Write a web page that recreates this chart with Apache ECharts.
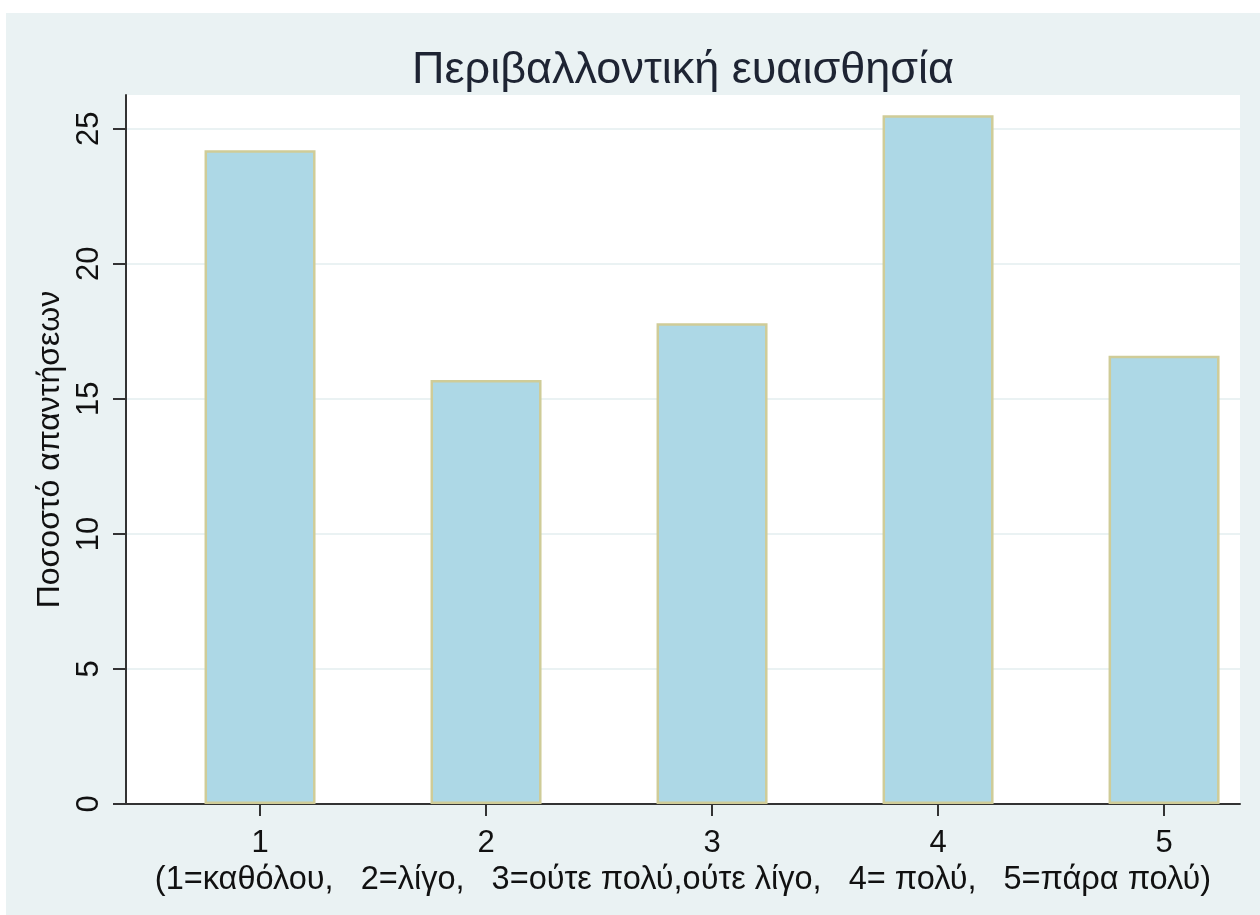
<!DOCTYPE html>
<html>
<head>
<meta charset="utf-8">
<script src="https://cdn.jsdelivr.net/npm/echarts@6/dist/echarts.min.js"></script>
<style>
html,body{margin:0;padding:0;background:#ffffff;}
#wrap{position:relative;width:1260px;height:915px;background:#ffffff;overflow:hidden;}
#chart{position:absolute;left:6px;top:13px;width:1254px;height:902px;}
</style>
</head>
<body>
<div id="wrap"><div id="chart"></div></div>
<script>
const titleText = 'Περιβαλλοντική ευαισθησία';
const yAxisName = 'Ποσοστό απαντήσεων';
const xAxisName = '(1=καθόλου,   2=λίγο,   3=ούτε πολύ,ούτε λίγο,   4= πολύ,   5=πάρα πολύ)';
const categories = [1, 2, 3, 4, 5];
const percents = [24.2, 15.7, 17.8, 25.5, 16.6];
const yTicks = [0, 5, 10, 15, 20, 25];

const FONT = 'Liberation Sans, Arial, sans-serif';
const chart = echarts.init(document.getElementById('chart'), null, {renderer: 'canvas'});
chart.setOption({
  backgroundColor: '#eaf2f3',
  animation: false,
  title: {
    text: titleText,
    left: 672,
    textAlign: 'center',
    top: 30,
    textStyle: {fontFamily: FONT, fontSize: 45, fontWeight: 'normal', color: '#1e2433'}
  },
  grid: {
    left: 120, right: 20, top: 82, bottom: 111,
    show: true, backgroundColor: '#ffffff', borderWidth: 0
  },
  xAxis: {
    type: 'value',
    min: 0.407, max: 5.336,
    name: xAxisName,
    nameLocation: 'middle',
    nameGap: 60,
    nameTextStyle: {fontFamily: FONT, fontSize: 32.5, color: '#111'},
    axisLine: {show: true, lineStyle: {color: '#333', width: 2}},
    axisTick: {show: true, length: 12, lineStyle: {color: '#333', width: 2}, customValues: categories},
    axisLabel: {fontFamily: FONT, fontSize: 31, color: '#111', margin: 24, customValues: categories},
    splitLine: {show: false}
  },
  yAxis: {
    type: 'value',
    min: 0, max: 26.25,
    name: yAxisName,
    nameLocation: 'middle',
    nameRotate: 90,
    nameGap: 56,
    nameTextStyle: {fontFamily: FONT, fontSize: 32, color: '#111'},
    axisLine: {show: true, lineStyle: {color: '#333', width: 2}},
    axisTick: {show: true, length: 13, lineStyle: {color: '#333', width: 2}, customValues: yTicks},
    axisLabel: {fontFamily: FONT, fontSize: 31, color: '#111', rotate: 90, margin: 21, customValues: yTicks},
    splitLine: {show: true, lineStyle: {color: '#eaf2f3', width: 2}},
    interval: 5
  },
  series: [{
    type: 'bar',
    barWidth: 111,
    data: categories.map((c, i) => [c, percents[i]]),
    itemStyle: {color: '#add8e6', borderColor: '#cfcc98', borderWidth: 2.5}
  }]
});
</script>
</body>
</html>
